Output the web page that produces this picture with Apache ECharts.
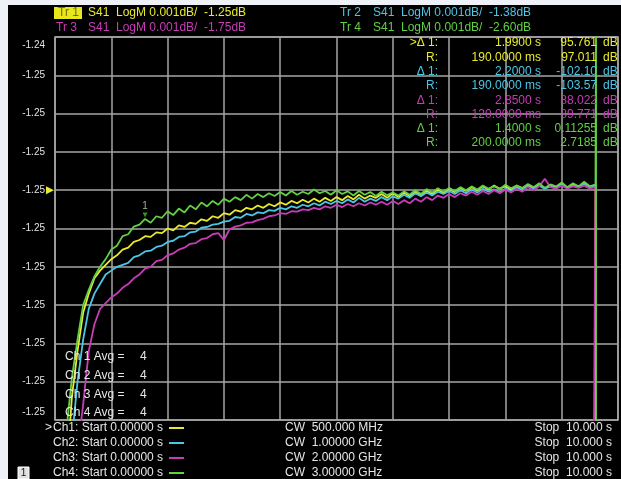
<!DOCTYPE html>
<html>
<head>
<meta charset="utf-8">
<script src="https://cdn.jsdelivr.net/npm/echarts@6/dist/echarts.min.js"></script>
<style>
  html, body { margin: 0; padding: 0; background: #eef2f8; width: 621px; height: 479px; overflow: hidden; }
  #c { position: absolute; left: 8px; top: 5px; width: 613px; height: 474px; background: #000; }
</style>
</head>
<body>
<div id="c"></div>
<script>
// Sweep time (s) of each sample
const timesS = [
  0.0, 0.1, 0.2, 0.3, 0.4, 0.5, 0.6, 0.7, 0.8, 0.9,
  1.0, 1.1, 1.2, 1.3, 1.4, 1.5, 1.6, 1.7, 1.8, 1.9,
  2.0, 2.1, 2.2, 2.3, 2.4, 2.5, 2.6, 2.7, 2.8, 2.9,
  3.0, 3.1, 3.2, 3.3, 3.4, 3.5, 3.6, 3.7, 3.8, 3.9,
  4.0, 4.1, 4.2, 4.3, 4.4, 4.5, 4.6, 4.7, 4.8, 4.9,
  5.0, 5.1, 5.2, 5.3, 5.4, 5.5, 5.6, 5.7, 5.8, 5.9,
  6.0, 6.1, 6.2, 6.3, 6.4, 6.5, 6.6, 6.7, 6.8, 6.9,
  7.0, 7.1, 7.2, 7.3, 7.4, 7.5, 7.6, 7.7, 7.8, 7.9,
  8.0, 8.1, 8.2, 8.3, 8.4, 8.5, 8.6, 8.7, 8.8, 8.9,
  9.0, 9.1, 9.2, 9.3, 9.4, 9.5, 9.6
];

// Trace levels in mdB relative to each trace's reference level (0.001 dB/div)
const tr1Yellow = [
  -15, -11, -7.5, -5.4, -4.2, -3.2, -2.7, -2.3, -2.1, -1.95,
  -1.8, -1.7, -1.55, -1.5, -1.35, -1.3, -1.2, -1.22, -1.1, -1.12,
  -1.0, -1.05, -0.92, -0.96, -0.85, -0.88, -0.76, -0.8, -0.68, -0.72,
  -0.6, -0.64, -0.52, -0.56, -0.46, -0.5, -0.4, -0.46, -0.36, -0.42,
  -0.32, -0.38, -0.28, -0.34, -0.25, -0.32, -0.22, -0.3, -0.2, -0.28,
  -0.18, -0.26, -0.15, -0.24, -0.12, -0.22, -0.14, -0.2, -0.1, -0.2,
  -0.08, -0.18, -0.06, -0.16, -0.04, -0.12, -0.02, -0.1, 0.02, -0.08,
  0.04, -0.05, 0.06, -0.02, 0.08, 0.0, 0.1, 0.02, 0.12, 0.04,
  0.1, 0.02, 0.12, 0.05, 0.14, 0.06, 0.16, 0.05, 0.14, 0.08,
  0.18, 0.06, 0.16, 0.08, 0.2, 0.1, 0.12
];
const tr2Cyan = [
  -16, -12, -8.5, -6.5, -5.0, -3.9, -3.1, -2.7, -2.45, -2.2,
  -2.1, -2.0, -1.95, -1.9, -1.75, -1.7, -1.6, -1.58, -1.48, -1.45,
  -1.35, -1.32, -1.22, -1.2, -1.1, -1.08, -0.98, -0.96, -0.9, -0.88,
  -0.82, -0.8, -0.7, -0.72, -0.62, -0.66, -0.58, -0.6, -0.52, -0.54,
  -0.46, -0.5, -0.42, -0.46, -0.38, -0.42, -0.34, -0.4, -0.3, -0.36,
  -0.28, -0.34, -0.24, -0.32, -0.2, -0.3, -0.22, -0.28, -0.18, -0.26,
  -0.16, -0.22, -0.12, -0.2, -0.08, -0.16, -0.06, -0.14, -0.04, -0.1,
  -0.02, -0.1, 0.0, -0.08, 0.02, -0.06, 0.04, -0.04, 0.02, -0.06,
  0.04, -0.02, 0.08, 0.0, 0.1, 0.02, 0.12, 0.04, 0.1, 0.05,
  0.14, 0.06, 0.12, 0.08, 0.16, 0.08, 0.1
];
const tr3Magenta = [
  -18, -14, -11, -8.5, -6.8, -5.6, -4.2, -3.5, -3.1, -2.95,
  -2.8, -2.7, -2.55, -2.45, -2.3, -2.2, -2.05, -2.0, -1.85, -1.82,
  -1.7, -1.65, -1.55, -1.5, -1.4, -1.38, -1.28, -1.25, -1.15, -1.12,
  -1.3, -1.02, -0.95, -0.92, -0.85, -0.84, -0.78, -0.75, -0.68, -0.66,
  -0.6, -0.62, -0.55, -0.56, -0.5, -0.52, -0.46, -0.5, -0.42, -0.46,
  -0.38, -0.44, -0.36, -0.42, -0.34, -0.4, -0.32, -0.38, -0.3, -0.38,
  -0.28, -0.36, -0.26, -0.34, -0.22, -0.3, -0.18, -0.26, -0.14, -0.2,
  -0.1, -0.18, -0.08, -0.14, -0.04, -0.12, -0.02, -0.1, 0.0, -0.08,
  0.02, -0.06, 0.04, -0.04, 0.08, 0.0, 0.1, 0.3, 0.08, 0.04,
  0.12, 0.04, 0.1, 0.06, 0.12, 0.04, 0.08
];
const tr4Green = [
  -14, -10, -6.3, -4.9, -3.9, -3.0, -2.6, -2.25, -2.0, -1.8,
  -1.55, -1.45, -1.2, -1.15, -0.95, -0.9, -0.75, -0.85, -0.68, -0.72,
  -0.55, -0.65, -0.48, -0.58, -0.4, -0.5, -0.32, -0.42, -0.28, -0.38,
  -0.22, -0.3, -0.18, -0.26, -0.12, -0.22, -0.1, -0.18, -0.08, -0.15,
  -0.05, -0.14, -0.02, -0.12, -0.04, -0.1, 0.02, -0.08, -0.02, -0.12,
  0.0, -0.1, -0.03, -0.14, -0.02, -0.12, -0.05, -0.15, -0.04, -0.13,
  -0.06, -0.14, -0.03, -0.12, 0.0, -0.1, 0.03, -0.06, 0.05, -0.04,
  0.06, -0.02, 0.08, 0.0, 0.1, 0.02, 0.12, 0.04, 0.1, 0.03,
  0.14, 0.05, 0.12, 0.06, 0.16, 0.08, 0.18, 0.06, 0.15, 0.1,
  0.2, 0.08, 0.18, 0.1, 0.22, 0.1, 0.15
];

// Sweep-update edge: time of the write cursor and the levels it jumps between
const tailYellow = { t: 9.59, levels: [0.12, -7] };
const tailCyan = { t: 9.6, levels: [] };
const tailMagenta = { t: 9.57, levels: [0.08, -7] };
const tailGreen = { t: 9.61, levels: [4.5, -7] };

// Y-axis tick labels, bottom to top (reference -1.25 dB, 0.001 dB/div)
const yTickLabels = ['-1.25', '-1.25', '-1.25', '-1.25', '-1.25', '-1.25', '-1.25', '-1.25', '-1.25', '-1.25', '-1.24'];
const yMin = -6, yMax = 4;

// Marker readout table
const mkLabels = ['>\u0394 1:', 'R:', '\u0394 1:', 'R:', '\u0394 1:', 'R:', '\u0394 1:', 'R:'];
const mkTimes = ['1.9900 s', '190.0000 ms', '2.2000 s', '190.0000 ms', '2.8500 s', '120.0000 ms', '1.4000 s', '200.0000 ms'];
const mkValues = ['95.761', '97.011', '-102.10', '-103.57', '88.022', '89.771', '0.11255', '2.7185'];

// Channel footer
const chNames = ['Ch1: Start 0.00000 s', 'Ch2: Start 0.00000 s', 'Ch3: Start 0.00000 s', 'Ch4: Start 0.00000 s'];
const chCW = ['CW  500.000 MHz', 'CW  1.00000 GHz', 'CW  2.00000 GHz', 'CW  3.00000 GHz'];
const chStop = ['Stop  10.000 s', 'Stop  10.000 s', 'Stop  10.000 s', 'Stop  10.000 s'];
const chAvg = ['4', '4', '4', '4'];

const YEL = '#eaea2c', CYA = '#4cc6e6', MAG = '#c83cb6', GRN = '#62d044';
const traceColors = [YEL, CYA, MAG, GRN];
const FONT = '"Liberation Sans", Arial, sans-serif';
const GRIDC = '#a6a6a6';

function pairs(vals, tail) {
  const d = timesS.map((t, i) => [t, vals[i]]);
  tail.levels.forEach(v => d.push([tail.t, v]));
  return d;
}

function lineSeries(name, vals, tail, color, extra) {
  return Object.assign({
    name, type: 'line', data: pairs(vals, tail), showSymbol: false, symbol: 'none',
    clip: true, animation: false,
    lineStyle: { color, width: 1.8 }, itemStyle: { color }
  }, extra || {});
}

function txt(x, y, s, color, align, size) {
  return {
    type: 'text', x, y, z: 100, silent: true,
    style: {
      text: s, fill: color, font: (size || 12) + 'px ' + FONT,
      textAlign: align || 'left', textVerticalAlign: 'middle'
    }
  };
}

// Overlay text (chart coordinates)
const g = [];
// Trace header lines
g.push({ type: 'rect', shape: { x: 46, y: 2, width: 28, height: 12 }, style: { fill: '#e8e61c' }, z: 99 });
g.push(txt(50, 8, 'Tr 1', '#707000'));
g.push(txt(80, 8, 'S41  LogM 0.001dB/  -1.25dB', YEL));
g.push(txt(48, 23, 'Tr 3', MAG));
g.push(txt(80, 23, 'S41  LogM 0.001dB/  -1.75dB', MAG));
g.push(txt(332, 8, 'Tr 2', CYA));
g.push(txt(365, 8, 'S41  LogM 0.001dB/  -1.38dB', CYA));
g.push(txt(332, 23, 'Tr 4', GRN));
g.push(txt(365, 23, 'S41  LogM 0.001dB/  -2.60dB', GRN));

// Marker readouts
for (let i = 0; i < mkLabels.length; i++) {
  const c = traceColors[Math.floor(i / 2)];
  const y = 38 + i * 14.3;
  g.push(txt(430, y, mkLabels[i], c, 'right'));
  g.push(txt(533, y, mkTimes[i], c, 'right'));
  g.push(txt(589, y, mkValues[i], c, 'right'));
  g.push(txt(595, y, 'dB', c, 'left'));
}

// Averaging status
for (let i = 0; i < chAvg.length; i++) {
  const y = 352 + i * 18.7;
  g.push(txt(57, y, 'Ch ' + (i + 1) + ' Avg =', '#e6e6e6'));
  g.push(txt(132, y, chAvg[i], '#e6e6e6'));
}

// Channel footer
g.push(txt(37, 423, '>', '#e6e6e6'));
for (let i = 0; i < chNames.length; i++) {
  const y = 423 + i * 15;
  g.push(txt(45, y, chNames[i], '#e6e6e6'));
  g.push({ type: 'line', shape: { x1: 161, y1: y, x2: 176, y2: y }, style: { stroke: traceColors[i], lineWidth: 2 }, z: 100 });
  g.push(txt(277, y, chCW[i], '#e6e6e6'));
  g.push(txt(604, y, chStop[i], '#e6e6e6', 'right'));
}

// Window number badge
g.push({ type: 'rect', shape: { x: 10, y: 462, width: 11, height: 12 }, style: { fill: '#e0e0e0', stroke: '#ffffff', lineWidth: 1 }, z: 100 });
g.push(txt(15.5, 468, '1', '#111', 'center', 10));

const chart = echarts.init(document.getElementById('c'));
chart.setOption({
  backgroundColor: '#000',
  animation: false,
  grid: { left: 47, right: 3, top: 32, bottom: 59, show: true, borderColor: GRIDC, borderWidth: 1.5 },
  xAxis: {
    type: 'value', min: 0, max: 10, interval: 1,
    axisLine: { show: false }, axisTick: { show: false }, axisLabel: { show: false },
    splitLine: { show: true, lineStyle: { color: GRIDC, width: 1.5 } }
  },
  yAxis: {
    type: 'value', min: yMin, max: yMax, interval: 1,
    axisLine: { show: false }, axisTick: { show: false },
    splitLine: { show: true, lineStyle: { color: GRIDC, width: 1.5 } },
    axisLabel: {
      margin: 10, color: '#e2e2e2', fontSize: 10, fontFamily: FONT,
      formatter: v => {
        const idx = Math.round(v - yMin);
        const s = yTickLabels[idx];
        if (idx === yTickLabels.length - 1) return '{t|' + s + '}';
        if (idx === 0) return '{b|' + s + '}';
        return s;
      },
      rich: {
        t: { color: '#e2e2e2', fontSize: 10, fontFamily: FONT, padding: [16, 0, 0, 0] },
        b: { color: '#e2e2e2', fontSize: 10, fontFamily: FONT, padding: [0, 0, 16, 0] }
      }
    }
  },
  series: [
    lineSeries('Tr 1', tr1Yellow, tailYellow, YEL, {
      markPoint: {
        silent: true, animation: false,
        data: [{ coord: [0, 0], symbol: 'triangle', symbolRotate: -90, symbolSize: [8, 8], symbolOffset: [-5, 0], itemStyle: { color: YEL }, label: { show: false } }]
      }
    }),
    lineSeries('Tr 2', tr2Cyan, tailCyan, CYA),
    lineSeries('Tr 3', tr3Magenta, tailMagenta, MAG),
    lineSeries('Tr 4', tr4Green, tailGreen, GRN, {
      markPoint: {
        silent: true, animation: false,
        data: [{ coord: [1.6, -0.75], symbol: 'triangle', symbolRotate: 180, symbolSize: [5, 5], symbolOffset: [0, -4], itemStyle: { color: '#3c8a2c' },
          label: { show: true, position: 'top', distance: 1, formatter: '1', color: '#9ab88c', fontSize: 10, fontFamily: FONT } }]
      }
    })
  ],
  graphic: g
});
</script>
</body>
</html>
